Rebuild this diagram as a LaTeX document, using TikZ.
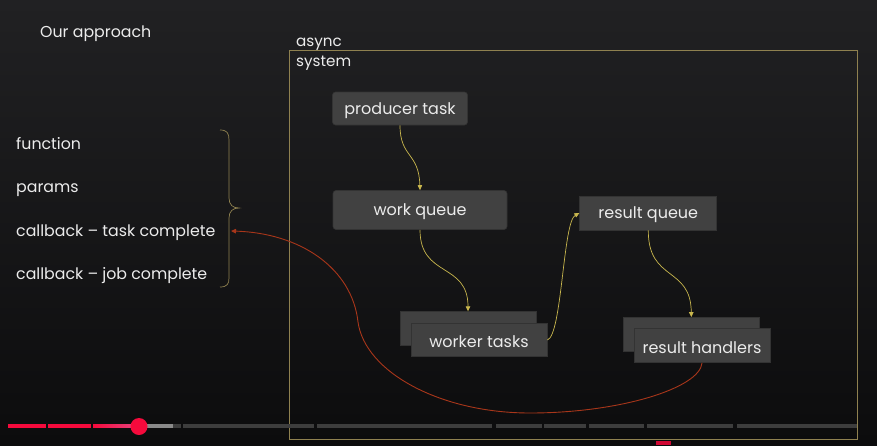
\documentclass[tikz,border=0pt]{standalone}
\usepackage{fontspec}
\setmainfont{Poppins}
\usetikzlibrary{arrows.meta,shapes.misc}
\definecolor{bgtop}{HTML}{212123}
\definecolor{bgbot}{HTML}{0C0C0D}
\definecolor{boxfill}{HTML}{414141}
\definecolor{boxline}{HTML}{333333}
\definecolor{txt}{HTML}{ECECEC}
\definecolor{frame}{HTML}{8F8150}
\definecolor{yarr}{HTML}{C9B74E}
\definecolor{rarr}{HTML}{A8361A}
\definecolor{ytred}{HTML}{F50A3C}
\definecolor{ytpink}{HTML}{E8407A}
\definecolor{ytgray}{HTML}{3D3D3D}
\definecolor{ytlight}{HTML}{8A8A8A}
\tikzset{
  lbl/.style={text=txt, font=\fontsize{15.8}{18}\selectfont, inner sep=0pt},
  smalllbl/.style={text=txt, font=\fontsize{15.2}{18}\selectfont, inner sep=0pt},
  boxtxt/.style={text=txt, font=\fontsize{16}{18}\selectfont, yshift=-2pt},
  roundbox/.style={fill=boxfill, draw=boxline, line width=0.6pt, rounded corners=3pt, inner sep=0pt},
  snipbox/.style={chamfered rectangle, chamfered rectangle corners=north east,
     chamfered rectangle xsep=4pt, chamfered rectangle ysep=4pt,
     fill=boxfill, draw=boxline, line width=0.8pt, inner sep=0pt},
  yflow/.style={draw=yarr, line width=0.7pt, -{Triangle[length=5pt,width=4.5pt]}},
  rflow/.style={draw=rarr, line width=0.9pt, -{Triangle[length=5pt,width=4.5pt]}},
  bar/.style={line width=3.3pt}
}
\begin{document}
\begin{tikzpicture}[x=1pt,y=-1pt]
\useasboundingbox (0,0) rectangle (877,445);
\shade[top color=bgtop, bottom color=bgbot] (0,0) rectangle (877,445);

% title
\node[lbl, anchor=base west] (title) at (40,37) {Our approach};

% left list
\node[lbl, anchor=base west] (fn) at (16,149) {function};
\node[lbl, anchor=base west] (pa) at (16,192) {params};
\node[lbl, anchor=base west] (cbt) at (16,236) {callback – task complete};
\node[lbl, anchor=base west] (cbj) at (16,279) {callback – job complete};

% brace
\draw[frame, line width=0.7pt] (220,130) .. controls (227,130) and (229,133) .. (229,140)
  -- (229,198) .. controls (229,205) and (233,208) .. (239,208)
  .. controls (233,208) and (229,211) .. (229,218)
  -- (229,278) .. controls (229,284) and (227,287) .. (220,287);

% frame
\draw[frame, line width=0.8pt] (289,50) rectangle (857,439);
\node[smalllbl, anchor=base west] (async) at (296,46) {async};
\node[smalllbl, anchor=base west] (sys) at (296,66) {system};

% boxes
\node[roundbox, minimum width=135pt, minimum height=33pt] (pt) at (400,108.5) {};
\node[boxtxt] at (pt) {producer task};
\node[roundbox, minimum width=174pt, minimum height=39pt] (wq) at (420,210) {};
\node[boxtxt] at (wq) {work queue};
\node[snipbox, minimum width=137pt, minimum height=34pt] (rq) at (648.3,213) {};
\node[boxtxt] at (rq) {result queue};

\node[snipbox, minimum width=136pt, minimum height=34pt] (wtb) at (468,328.7) {};
\node[snipbox, minimum width=136pt, minimum height=33pt] (wt) at (479,340) {};
\node[boxtxt] at (wt) {worker tasks};

\node[snipbox, minimum width=136pt, minimum height=34pt] (rhb) at (691.3,334.5) {};
\node[snipbox, minimum width=136pt, minimum height=34pt] (rh) at (702,345.5) {};
\node[boxtxt] at (rh) {result handlers};

% yellow connectors
\draw[yflow] (pt.south) .. controls (400,158) and (419,152) .. (wq.north);
\draw[yflow] (wq.south) .. controls (420,278) and (468,262) .. (wtb.north);
\draw[yflow] (wt.east) .. controls (562,335) and (563,222) .. (rq.west);
\draw[yflow] (rq.south) .. controls (648,282) and (691,266) .. (rhb.north);

% red connector
\coordinate (cbend) at (231,231);
\draw[rflow] (rh.south) .. controls (700,388) and (620,413) .. (530,413)
  .. controls (440,413) and (365,372) .. (358,322)
  .. controls (352,268) and (300,233) .. (cbend);

% progress bar
\draw[bar, ytred] (8,426) -- (46,426);
\draw[bar, ytred] (48,426) -- (91,426);
\shade[left color=ytred, right color=ytpink] (93,424.35) rectangle (135,427.65);
\draw[bar, ytlight] (139,426) -- (173,426);
\draw[bar, ytgray] (173,426) -- (181,426);
\draw[bar, ytgray] (183,426) -- (313.5,426);
\draw[bar, ytgray] (317,426) -- (492.4,426);
\draw[bar, ytgray] (495.8,426) -- (541.5,426);
\draw[bar, ytgray] (543.8,426) -- (586.4,426);
\draw[bar, ytgray] (589,426) -- (643.5,426);
\draw[bar, ytgray] (647,426) -- (733.4,426);
\draw[bar, ytgray] (736.8,426) -- (856.7,426);
\fill[ytred] (139,426.5) circle (8.5);
\fill[ytred!85!black] (656,441) rectangle (671,445);
\end{tikzpicture}
\end{document}
